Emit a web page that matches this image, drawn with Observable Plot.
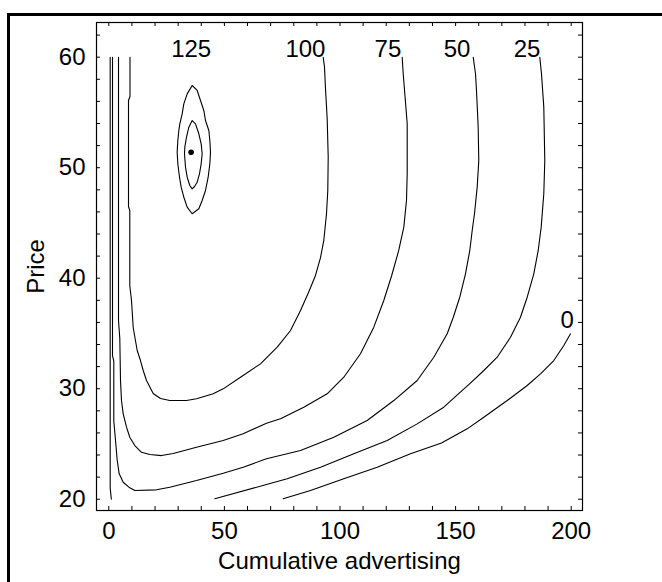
<!DOCTYPE html>
<html><head><meta charset="utf-8">
<script src="https://cdn.jsdelivr.net/npm/d3@7"></script>
<script src="https://cdn.jsdelivr.net/npm/@observablehq/plot@0.6"></script>
<style>
html,body{margin:0;padding:0;background:#fff;}
#wrap{position:relative;width:662px;height:582px;overflow:hidden;background:#fff;}
#border{position:absolute;left:7px;top:13px;width:800px;height:800px;border-top:3px solid #000;border-left:3px solid #000;}
#chart{position:absolute;left:0;top:0;}
</style></head><body>
<div id="wrap"><div id="border"></div><div id="chart"></div></div>
<script>
// Axis ticks and labels
const xTickLabels = [0, 50, 100, 150, 200];
const yTickLabels = [20, 30, 40, 50, 60];
const xMinorTicks = [0,10,20,30,40,50,60,70,80,90,100,110,120,130,140,150,160,170,180,190,200];
const yMinorTicks = [20,22,24,26,28,30,32,34,36,38,40,42,44,46,48,50,52,54,56,58,60,62];

// Contour lines [cumulative advertising, price]
const contour0 = [[75.43,20.04],[87.24,20.79],[101.64,21.85],[116.09,22.9],[130.49,24.11],[143.9,25.09],[155.02,26.37],[162.2,27.42],[172.32,28.93],[180.97,30.29],[186.72,31.35],[192.47,32.55],[196.8,33.91],[199.7,34.97]];
const contour25Left = [[0.6,60],[0.6,21],[1.1,20]];
const contour25Right = [[45.85,20.04],[68.21,21.33],[77.16,21.85],[91.57,22.9],[105.97,24.11],[120.42,25.31],[133.39,26.82],[144.9,28.33],[150.5,29.4],[156.4,30.5],[162.2,31.65],[167.99,32.85],[173.75,34.66],[178.07,36.47],[180.97,38.28],[183.82,40.4],[185.73,42.51],[187.02,44.62],[188.15,47.64],[188.58,50.65],[188.15,55.48],[187.15,58.5],[186.42,60]];
const contour50 = [[1.6,60],[1.6,33.0],[2.16,32.5],[2.16,27.1],[2.9,25.34],[3.63,23.53],[4.5,22.3],[6.23,21.54],[9.08,21.03],[11.25,20.79],[20.63,20.85],[26.38,21.09],[37.93,21.69],[49.48,22.35],[58.13,22.9],[68.21,23.66],[82.92,24.41],[97.32,25.61],[111.76,27.12],[123.27,28.93],[133.39,30.74],[140.57,32.85],[146.37,34.97],[149.0,36.47],[151.8,38.28],[154.28,40.4],[156.14,42.51],[157.18,44.32],[158.17,45.83],[159.34,48.24],[160.03,50.65],[159.77,53.67],[159.04,56.99],[158.61,58.5],[157.61,60]];
const contour75 = [[4.2,60],[4.2,36.17],[4.76,34.54],[5.06,30.74],[5.49,28.93],[6.23,27.73],[7.66,26.52],[9.08,25.61],[11.25,24.86],[14.14,24.25],[17.73,24.05],[22.79,23.95],[27.85,24.14],[37.93,24.71],[49.48,25.31],[58.13,25.92],[68.21,26.88],[74.27,27.28],[84.34,28.33],[94.46,29.54],[101.64,31.04],[108.86,33.16],[114.62,35.57],[118.94,37.98],[122.3,40.2],[125.4,42.51],[127.6,44.62],[128.76,47.03],[129.07,49.45],[129.07,53.97],[128.33,55.93],[127.34,58.5],[126.9,60]];
const contour100 = [[9.17,60],[9.17,56.44],[8.52,56.08],[8.52,46.49],[9.08,46.13],[9.08,39.34],[9.82,37.98],[10.55,35.54],[12.28,33.46],[13.71,32.55],[14.88,31.65],[16.31,30.74],[19.2,29.57],[22.36,29.12],[26.38,28.93],[33.61,28.93],[37.93,29.09],[45.16,29.54],[49.48,29.99],[56.96,31.04],[65.61,32.25],[72.84,33.76],[78.59,35.27],[82.92,37.08],[86.38,38.71],[89.4,40.25],[91.57,41.87],[92.99,43.41],[94.16,45.83],[94.72,47.94],[94.9,50.95],[94.46,54.43],[93.73,57.14],[93.3,59.1],[92.73,60]];
const contour125 = [[36.06,57.44],[33.9,56.68],[32.45,55.78],[31.73,54.87],[30.72,53.97],[30.29,53.37],[29.86,52.46],[29.57,51.41],[29.86,50.35],[30.58,49.14],[31.3,48.24],[32.45,47.33],[33.9,46.43],[36.06,45.83],[38.94,46.28],[40.38,47.03],[41.82,47.94],[42.98,49.14],[43.7,50.35],[43.99,51.41],[43.7,52.46],[43.27,53.37],[41.82,54.27],[41.1,55.18],[39.66,56.08],[38.22,56.99],[36.06,57.44]];
const contourInner = [[36.06,54.27],[34.62,53.67],[33.61,52.76],[32.88,51.86],[32.74,51.26],[33.17,50.05],[33.9,49.14],[35.05,48.39],[36.06,48.09],[37.07,48.3],[38.22,48.69],[39.23,49.45],[39.95,50.35],[40.38,51.26],[39.95,52.16],[38.94,53.07],[37.5,53.97],[36.06,54.27]];
const optimum = [[35.6, 51.4]];

// Contour level labels
const levelLabels = ["125", "100", "75", "50", "25", "0"];
const levelLabelAdv = [44.3, 93.7, 126.5, 156.4, 186.7, 201.1];
const levelLabelPrice = [60.06, 60.06, 60.06, 60.06, 60.06, 35.54];

const pieces = [
  ["0", contour0], ["25a", contour25Left], ["25b", contour25Right], ["50", contour50],
  ["75", contour75], ["100", contour100], ["125", contour125], ["inner", contourInner]
];
const rows = pieces.flatMap(([id, pts]) => pts.map(([a, p]) => ({id, adv: a, price: p})));
const labels = levelLabels.map((t, i) => ({t, adv: levelLabelAdv[i], price: levelLabelPrice[i]}));

const W = 662, H = 582;
const mL = 96, mR = 80, mT = 22, mB = 72;
const innerW = W - mL - mR, innerH = H - mT - mB;
const font = "'Liberation Sans', Arial, sans-serif";
const fs = 24;

const chart = Plot.plot({
  width: W, height: H,
  marginLeft: mL, marginRight: mR, marginTop: mT, marginBottom: mB,
  style: {fontFamily: font, fontSize: fs + "px", color: "#000", background: "transparent", overflow: "visible"},
  x: {domain: [-5.32, 204.89], ticks: xTickLabels, label: null},
  y: {domain: [18.98, 63.14], ticks: yTickLabels, label: null},
  marks: [
    Plot.line(rows, {x: "adv", y: "price", z: "id", stroke: "#000", strokeWidth: 1.1}),
    Plot.dot(optimum, {x: d => d[0], y: d => d[1], r: 2.8, fill: "#000", stroke: null}),
    Plot.text(labels, {x: "adv", y: "price", text: "t", textAnchor: "end", lineAnchor: "bottom", fontSize: fs, fill: "#000"}),
    Plot.tickX(xMinorTicks, {x: d => d, insetBottom: innerH - 4, stroke: "#000"}),
    Plot.tickX(xMinorTicks, {x: d => d, insetTop: innerH - 4, stroke: "#000"}),
    Plot.tickY(yMinorTicks, {y: d => d, insetRight: innerW - 4, stroke: "#000"}),
    Plot.tickY(yMinorTicks, {y: d => d, insetLeft: innerW - 4, stroke: "#000"}),
    Plot.frame({stroke: "#000", strokeWidth: 1.2}),
    Plot.axisX(xTickLabels, {tickSize: 0, tickPadding: 11, fontSize: fs, label: null}),
    Plot.axisY(yTickLabels, {tickSize: 0, tickPadding: 11, fontSize: fs, label: null}),
    Plot.text(["Cumulative advertising"], {frameAnchor: "bottom", dy: 58, lineAnchor: "bottom", textAnchor: "middle", fontSize: fs, fill: "#000"}),
    Plot.text(["Price"], {frameAnchor: "left", dx: -53, rotate: -90, lineAnchor: "bottom", textAnchor: "middle", fontSize: fs, fill: "#000"})
  ]
});
document.getElementById("chart").appendChild(chart);
</script>
</body></html>
